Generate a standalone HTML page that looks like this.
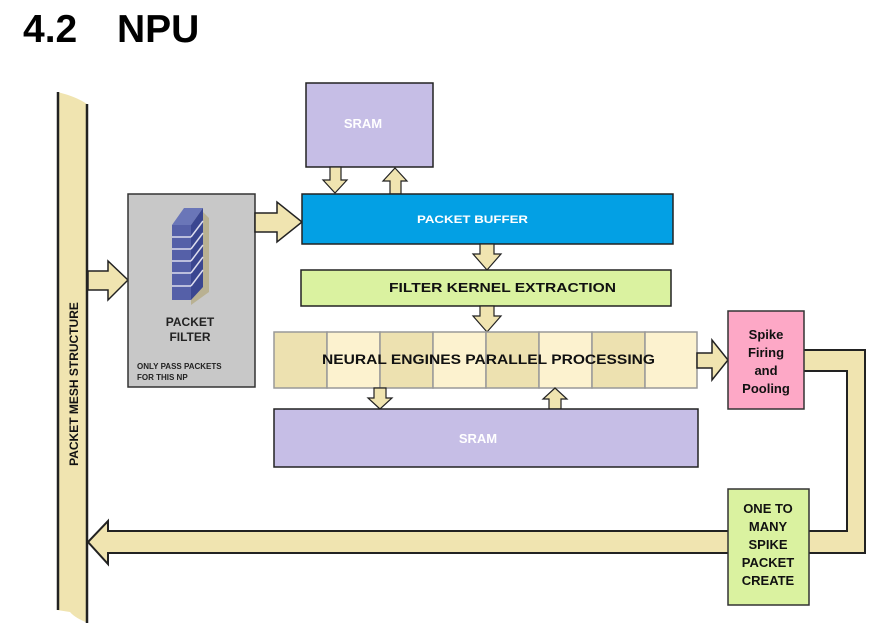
<!DOCTYPE html>
<html><head><meta charset="utf-8"><style>
html,body{margin:0;padding:0;background:#fff;}
svg{display:block;font-family:"Liberation Sans",Arial,sans-serif;}
</style></head><body>
<svg width="885" height="640" viewBox="0 0 885 640" xmlns="http://www.w3.org/2000/svg">
<text x="23" y="42" font-size="39" font-weight="bold" fill="#000">4.2</text>
<text x="117" y="42" font-size="39" font-weight="bold" fill="#000">NPU</text>

<!-- vertical mesh bar -->
<path d="M57,92 Q75,96 87,104 L88,623 Q75,618 70,612 L57,610 Z" fill="#f0e4b0"/>
<line x1="58" y1="92" x2="58" y2="610" stroke="#222" stroke-width="2.5"/>
<line x1="87" y1="104" x2="87" y2="623" stroke="#222" stroke-width="2.5"/>
<text transform="translate(78,384) rotate(-90)" text-anchor="middle" font-size="12" font-weight="bold" fill="#111">PACKET MESH STRUCTURE</text>

<!-- arrow bar -> filter -->
<polygon points="88,271 108,271 108,261 128,280 108,300 108,290 88,290" fill="#f0e4b0" stroke="#222" stroke-width="1.5"/>

<!-- packet filter -->
<rect x="128" y="194" width="127" height="193" fill="#c8c8c8" stroke="#333" stroke-width="1.5"/>
<polygon points="191,225 203,212 209,218 209,292 191,305" fill="#b5ab85" opacity="0.8"/>
<polygon points="172,225 184,208 203,208 191,225" fill="#6a76b8"/>
<polygon points="191,225 203,208 203,287 191,300" fill="#3a4690"/>
<rect x="172" y="225" width="19" height="75" fill="#5560a8"/>
<g stroke="#dde" stroke-width="1.5">
<line x1="172" y1="237" x2="191" y2="237"/><line x1="172" y1="249" x2="191" y2="249"/>
<line x1="172" y1="261" x2="191" y2="261"/><line x1="172" y1="273" x2="191" y2="273"/>
<line x1="172" y1="286" x2="191" y2="286"/>
<line x1="191" y1="237" x2="203" y2="221"/><line x1="191" y1="249" x2="203" y2="233"/>
<line x1="191" y1="261" x2="203" y2="245"/><line x1="191" y1="273" x2="203" y2="257"/>
<line x1="191" y1="286" x2="203" y2="270"/>
</g>
<text x="190" y="326" text-anchor="middle" font-size="12" font-weight="bold" fill="#222">PACKET</text>
<text x="190" y="341" text-anchor="middle" font-size="12" font-weight="bold" fill="#222">FILTER</text>
<text x="137" y="369" font-size="8" font-weight="bold" fill="#222">ONLY PASS PACKETS</text>
<text x="137" y="380" font-size="8" font-weight="bold" fill="#222">FOR THIS NP</text>

<!-- arrow filter -> buffer -->
<polygon points="255,213 277,213 277,202 302,222 277,242 277,232 255,232" fill="#f0e4b0" stroke="#222" stroke-width="1.5"/>

<!-- SRAM top -->
<rect x="306" y="83" width="127" height="84" fill="#c6bee6" stroke="#222" stroke-width="1.5"/>
<text x="363" y="128" text-anchor="middle" font-size="13" font-weight="bold" fill="#fff">SRAM</text>
<!-- arrows sram/buffer -->
<polygon points="330,167 341,167 341,180 347,180 335,193 323,180 330,180" fill="#f0e4b0" stroke="#222" stroke-width="1.2"/>
<polygon points="390,194 401,194 401,181 407,181 395,168 383,181 390,181" fill="#f0e4b0" stroke="#222" stroke-width="1.2"/>

<!-- packet buffer -->
<rect x="302" y="194" width="371" height="50" fill="#03a0e4" stroke="#222" stroke-width="1.5"/>
<text x="417" y="223" font-size="11" font-weight="bold" fill="#fff" textLength="111" lengthAdjust="spacingAndGlyphs">PACKET BUFFER</text>
<polygon points="480,244 494,244 494,254 501,254 487,270 473,254 480,254" fill="#f0e4b0" stroke="#222" stroke-width="1.2"/>

<!-- filter kernel -->
<rect x="301" y="270" width="370" height="36" fill="#daf2a0" stroke="#222" stroke-width="1.5"/>
<text x="389" y="292" font-size="13" font-weight="bold" fill="#111" textLength="227" lengthAdjust="spacingAndGlyphs">FILTER KERNEL EXTRACTION</text>
<polygon points="480,306 494,306 494,316 501,316 487,332 473,316 480,316" fill="#f0e4b0" stroke="#222" stroke-width="1.2"/>

<!-- neural row -->
<g stroke="#999" stroke-width="1.5">
<rect x="274" y="332" width="53" height="56" fill="#ede1b0"/>
<rect x="327" y="332" width="53" height="56" fill="#fcf2cf"/>
<rect x="380" y="332" width="53" height="56" fill="#ede1b0"/>
<rect x="433" y="332" width="53" height="56" fill="#fcf2cf"/>
<rect x="486" y="332" width="53" height="56" fill="#ede1b0"/>
<rect x="539" y="332" width="53" height="56" fill="#fcf2cf"/>
<rect x="592" y="332" width="53" height="56" fill="#ede1b0"/>
<rect x="645" y="332" width="52" height="56" fill="#fcf2cf"/>
</g>
<text x="322" y="364" font-size="13.5" font-weight="bold" fill="#111" textLength="333" lengthAdjust="spacingAndGlyphs">NEURAL ENGINES PARALLEL PROCESSING</text>

<!-- neural <-> sram arrows -->
<polygon points="374,388 386,388 386,398 392,398 380,409 368,398 374,398" fill="#f0e4b0" stroke="#222" stroke-width="1.2"/>
<polygon points="549,409 561,409 561,399 567,399 555,388 543,399 549,399" fill="#f0e4b0" stroke="#222" stroke-width="1.2"/>

<!-- SRAM bottom -->
<rect x="274" y="409" width="424" height="58" fill="#c6bee6" stroke="#222" stroke-width="1.5"/>
<text x="478" y="443" text-anchor="middle" font-size="13" font-weight="bold" fill="#fff">SRAM</text>

<!-- arrow neural -> spike -->
<polygon points="697,353 712,353 712,340 728,360 712,380 712,368 697,368" fill="#f0e4b0" stroke="#222" stroke-width="1.5"/>

<!-- loop pipe -->
<polygon points="804,350 865,350 865,553 108,553 108,564 88,542 108,521 108,531 847,531 847,371 804,371" fill="#f0e4b0"/>
<polyline points="804,350 865,350 865,553 108,553 108,564 88,542 108,521 108,531 728,531" fill="none" stroke="#222" stroke-width="2"/>
<polyline points="804,371 847,371 847,531 809,531" fill="none" stroke="#222" stroke-width="2"/>

<!-- spike box -->
<rect x="728" y="311" width="76" height="98" fill="#fda8c6" stroke="#333" stroke-width="1.5"/>
<g font-size="13" font-weight="bold" fill="#111" text-anchor="middle">
<text x="766" y="339">Spike</text><text x="766" y="357">Firing</text>
<text x="766" y="375">and</text><text x="766" y="393">Pooling</text>
</g>

<!-- one to many -->
<rect x="728" y="489" width="81" height="116" fill="#daf2a0" stroke="#333" stroke-width="1.5"/>
<g font-size="13" font-weight="bold" fill="#111" text-anchor="middle">
<text x="768" y="513">ONE TO</text><text x="768" y="531">MANY</text>
<text x="768" y="549">SPIKE</text><text x="768" y="567">PACKET</text>
<text x="768" y="585">CREATE</text>
</g>
</svg>
</body></html>
